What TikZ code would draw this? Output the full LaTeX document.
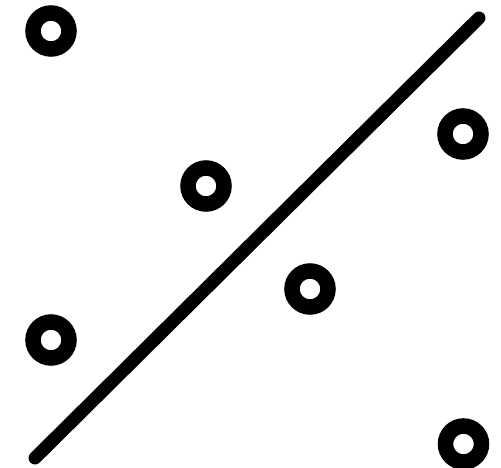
\documentclass[tikz,border=0pt]{standalone}
\begin{document}
\begin{tikzpicture}[x=1pt,y=-1pt,
  ringshape/.style={draw=black,line width=15.5pt,circle,minimum size=36pt,inner sep=0pt},
  bar/.style={draw=black,line width=13pt,line cap=round}]
\useasboundingbox (0,0) rectangle (501,468);
\node[ringshape] (r1) at (51,31) {};
\node[ringshape] (r2) at (463,134) {};
\node[ringshape] (r3) at (206,186) {};
\node[ringshape] (r4) at (310,289) {};
\node[ringshape] (r5) at (51,340) {};
\node[ringshape] (r6) at (463.5,444) {};
\coordinate (a) at (35,458);
\coordinate (b) at (479,18);
\draw[bar] (a) -- (b);
\end{tikzpicture}
\end{document}
